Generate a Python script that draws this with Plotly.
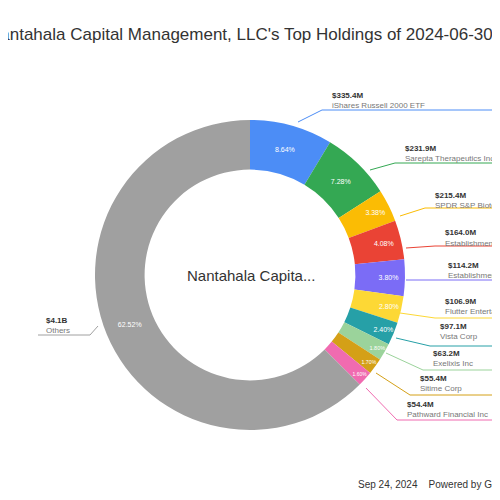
import plotly.graph_objects as go

names = ["iShares Russell 2000 ETF", "Sarepta Therapeutics Inc", "SPDR S&P Biotech ETF",
         "Establishment Labs Holdings", "Establishment Labs Inc", "Flutter Entertainment PLC",
         "Vista Corp", "Exelixis Inc", "Sitime Corp", "Pathward Financial Inc", "Others"]
amounts = ["$335.4M", "$231.9M", "$215.4M", "$164.0M", "$114.2M", "$106.9M", "$97.1M",
           "$63.2M", "$55.4M", "$54.4M", "$4.1B"]
shares = [8.64, 7.28, 3.38, 4.08, 3.80, 2.80, 2.40, 1.80, 1.70, 1.60, 62.52]
colors = ["#4c8df6", "#34a853", "#fbbc04", "#ea4335", "#7b6cf6", "#fdd835", "#26a0a7",
          "#9bd39b", "#d4a017", "#f06bb0", "#a0a0a0"]

W = H = 500
fig = go.Figure(go.Pie(
    values=shares, labels=names, sort=False, direction="clockwise", rotation=0,
    hole=0.68, marker=dict(colors=colors, line=dict(width=0)),
    texttemplate="%{value:.2f}%", textposition="inside", insidetextorientation="horizontal",
    textfont=dict(size=7, color="white", family="Liberation Sans"),
    domain=dict(x=[86/W, 398/W], y=[1-422/H, 1-112/H]), showlegend=False,
))

lab = [(322, 88, 290, 114, 102), (395, 140, 362, 162, 155), (425, 187, 392, 208, 200),
       (435, 225, 398, 240, 238), (438, 257, 398, 272, 272), (435, 293, 392, 305, 310),
       (430, 318, 388, 330, 338), (423, 345, 378, 345, 362), (410, 370, 368, 365, 387),
       (397, 396, 358, 380, 412)]
ann = []
shapes = []
def px(x): return x / W
def py(y): return 1 - y / H
for i, (tx, ty, lx, ly, uy) in enumerate(lab):
    ann.append(dict(x=px(tx), y=py(ty), xref="paper", yref="paper", xanchor="left", yanchor="middle",
                    text="<b>" + amounts[i] + "</b>", showarrow=False,
                    font=dict(size=8, color="#333", family="Liberation Sans")))
    ann.append(dict(x=px(tx), y=py(ty + 10), xref="paper", yref="paper", xanchor="left", yanchor="middle",
                    text=names[i], showarrow=False,
                    font=dict(size=8, color="#777", family="Liberation Sans")))
    shapes.append(dict(type="path", xref="paper", yref="paper",
                       path=f"M {px(lx)} {py(ly)} L {px(tx-8)} {py(uy)} L {px(505)} {py(uy)}",
                       line=dict(color=colors[i], width=1)))
ann.append(dict(x=px(36), y=py(312), xref="paper", yref="paper", xanchor="left", yanchor="middle",
                text="<b>" + amounts[10] + "</b>", showarrow=False,
                font=dict(size=8, color="#333", family="Liberation Sans")))
ann.append(dict(x=px(36), y=py(322), xref="paper", yref="paper", xanchor="left", yanchor="middle",
                text=names[10], showarrow=False, font=dict(size=8, color="#777", family="Liberation Sans")))
shapes.append(dict(type="path", xref="paper", yref="paper",
                   path=f"M {px(90)} {py(318)} L {px(82)} {py(327)} L {px(30)} {py(327)}",
                   line=dict(color="#a0a0a0", width=1)))
ann.append(dict(x=px(243), y=py(267), xref="paper", yref="paper", text="Nantahala Capita...",
                showarrow=False, font=dict(size=15, color="#333", family="Liberation Sans")))
ann.append(dict(x=px(232), y=py(15), xref="paper", yref="paper",
                text="Nantahala Capital Management, LLC's Top Holdings of 2024-06-30",
                showarrow=False, font=dict(size=17, color="#333", family="Liberation Sans")))
ann.append(dict(x=px(348), y=py(484), xref="paper", yref="paper", xanchor="left",
                text="Sep 24, 2024 &nbsp;&nbsp; Powered by GuruFocus", showarrow=False,
                font=dict(size=10, color="#333", family="Liberation Sans")))

fig.update_layout(width=W, height=H, margin=dict(l=0, r=0, t=0, b=0),
                  paper_bgcolor="white", annotations=ann, shapes=shapes)
fig.write_html("out.html")
